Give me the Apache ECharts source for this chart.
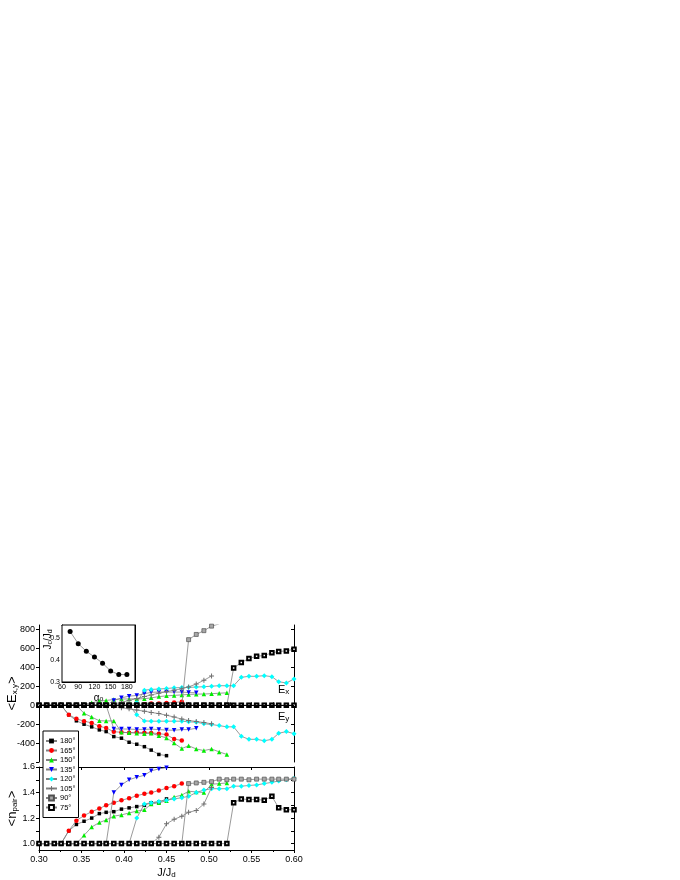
<!DOCTYPE html>
<html>
<head>
<meta charset="utf-8">
<script src="https://cdn.jsdelivr.net/npm/echarts@6/dist/echarts.min.js"></script>
<style>
html,body{margin:0;padding:0;background:#fff}
#chart{width:680px;height:880px}
</style>
</head>
<body>
<div id="chart"></div>
<script>
// J/Jd grid (shared by all curves)
var J = [0.300,0.309,0.318,0.326,0.335,0.344,0.353,0.362,0.371,0.379,0.388,0.397,0.406,0.415,0.424,0.432,0.441,0.450,
         0.459,0.468,0.476,0.485,0.494,0.503,0.512,0.521,0.529,0.538,0.547,0.556,0.565,0.574,0.582,0.591,0.600];

// <E_x> (upper branch), <E_y> (lower branch), <n_pair>, one set per angle
var ex180 = [0,0,0,0,0,0,0,0,0,0,0,0,0,0,0,0,0,0];
var ey180 = [0,0,0,0,-100,-164,-200,-228,-260,-278,-331,-348,-391,-412,-438,-474,-520,-533];
var n180  = [1,1,1,1,1.10,1.15,1.175,1.20,1.235,1.245,1.25,1.27,1.28,1.29,1.30,1.32,1.325,1.35];

var ex165 = [0,0,0,0,0,0,0,0,0,0,0,0,0,8,12,18,20,25,30,38];
var ey165 = [0,0,0,0,-100,-143,-168,-186,-221,-240,-280,-285,-290,-285,-290,-292,-300,-310,-357,-372];
var n165  = [1,1,1,1,1.10,1.18,1.22,1.25,1.275,1.30,1.32,1.34,1.355,1.375,1.39,1.40,1.415,1.435,1.45,1.47];

var ex150 = [0,0,0,0,0,0,12,26,43,52,61,66,68,68,70,79,92,100,105,110,115,118,120,123,128,132];
var ey150 = [0,0,0,0,0,0,-85,-124,-164,-165,-165,-285,-290,-295,-300,-295,-321,-345,-400,-458,-428,-462,-479,-462,-493,-520];
var n150  = [1,1,1,1,1,1,1.065,1.13,1.165,1.185,1.215,1.225,1.24,1.255,1.265,1.31,1.32,1.335,1.365,1.38,1.41,1.405,1.40,1.465,1.47,1.475];

var ex135 = [0,0,0,0,0,0,0,0,0,0,51,79,97,104,122,138,140,140,140,140,135,133];
var ey135 = [0,0,0,0,0,0,0,0,0,0,-250,-250,-252,-255,-255,-252,-257,-262,-264,-257,-257,-243];
var n135  = [1,1,1,1,1,1,1,1,1,1,1.40,1.46,1.50,1.52,1.535,1.57,1.585,1.595];

var ex120 = [0,0,0,0,0,0,0,0,0,0,0,0,0,30,160,168,172,178,185,188,190,193,197,202,208,207,207,296,307,307,314,303,250,236,279];
var ey120 = [0,0,0,0,0,0,0,0,0,0,0,0,0,-100,-165,-168,-168,-168,-168,-168,-175,-178,-195,-203,-215,-228,-228,-328,-360,-360,-375,-360,-296,-278,-300];
var n120  = [1,1,1,1,1,1,1,1,1,1,1,1,1,1.20,1.31,1.32,1.33,1.34,1.35,1.36,1.37,1.40,1.42,1.43,1.43,1.43,1.45,1.45,1.455,1.46,1.47,1.48,1.49,1.50,1.51];

var ex105 = [0,0,0,0,0,0,0,0,0,0,14,32,52,72,92,110,128,145,160,175,195,225,265,310];
var ey105 = [0,0,0,0,0,0,0,0,0,0,-12,-25,-37,-50,-62,-75,-88,-105,-124,-146,-160,-171,-182,-196];
var n105  = [1,1,1,1,1,1,1,1,1,1,1,1,1,1,1,1,1.05,1.155,1.19,1.215,1.245,1.26,1.31,1.44];

var ex90 = [0,0,0,0,0,0,0,0,0,0,0,0,0,0,0,0,0,0,0,0,695,750,790,838,862];
var ey90 = [0,0,0,0,0,0,0,0,0,0,0,0,0,0,0,0,0,0,0,0,0,0,0,0,0,0,0,0,0,0,0,0,0,0,0];
var n90  = [1,1,1,1,1,1,1,1,1,1,1,1,1,1,1,1,1,1,1,1,1.47,1.475,1.48,1.485,1.505,1.50,1.505,1.505,1.50,1.505,1.505,1.505,1.505,1.505,1.505];

var ex75 = [0,0,0,0,0,0,0,0,0,0,0,0,0,0,0,0,0,0,0,0,0,0,0,0,0,0,395,453,495,518,528,555,570,576,594];
var ey75 = [0,0,0,0,0,0,0,0,0,0,0,0,0,0,0,0,0,0,0,0,0,0,0,0,0,0,0,0,0,0,0,0,0,0,0];
var n75  = [1,1,1,1,1,1,1,1,1,1,1,1,1,1,1,1,1,1,1,1,1,1,1,1,1,1,1.32,1.35,1.345,1.345,1.34,1.37,1.28,1.265,1.265];

// inset: Jc/Jd vs alpha
var alpha = [75,90,105,120,135,150,165,180];
var jc    = [0.530,0.475,0.440,0.414,0.386,0.350,0.334,0.334];

var names = ['180°','165°','150°','135°','120°','105°','90°','75°'];
var curves = [
    [ex180,ey180,n180],[ex165,ey165,n165],[ex150,ey150,n150],[ex135,ey135,n135],
    [ex120,ey120,n120],[ex105,ey105,n105],[ex90,ey90,n90],[ex75,ey75,n75]
];
var looks = [
    {symbol:'rect', size:3.5, color:'#000000'},
    {symbol:'circle', size:4.5, color:'#ff0000'},
    {symbol:'triangle', size:4.5, color:'#00ee00'},
    {symbol:'triangle', size:4.5, color:'#0000ff', rotate:180},
    {symbol:'diamond', size:5, color:'#00ffff'},
    {symbol:'path://M4,0H6V4H10V6H6V10H4V6H0V4H4Z', size:5, color:'#707070'},
    {symbol:'rect', size:4, color:'#a8a8a8', border:'#505050', bw:0.7},
    {symbol:'emptyRect', size:3.5, color:'#000000', bw:1}
];

function pairs(vals){
    var out = [];
    for (var i = 0; i < vals.length; i++) out.push([J[i], vals[i]]);
    return out;
}

var series = [];
for (var i = 0; i < names.length; i++) {
    var lk = looks[i];
    for (var p = 0; p < 3; p++) {
        series.push({
            name: names[i], type: 'line',
            xAxisIndex: p < 2 ? 0 : 2, yAxisIndex: p < 2 ? 0 : 2,
            data: pairs(curves[i][p]),
            symbol: lk.symbol, symbolSize: lk.size, symbolRotate: lk.rotate || 0,
            showSymbol: true, clip: true,
            itemStyle: {color: lk.color, borderColor: lk.border || lk.color, borderWidth: lk.bw || 0},
            lineStyle: {color: '#808080', width: 0.8},
            animation: false, z: 2 + i * 0.1
        });
    }
}
// zero line of the energy panel
series[0].markLine = {
    silent: true, symbol: 'none', label: {show: false}, animation: false,
    lineStyle: {color: '#000', width: 1.2, type: 'solid'},
    data: [{yAxis: 0}]
};
series.push({
    name: 'inset', type: 'line', xAxisIndex: 4, yAxisIndex: 4,
    data: alpha.map(function (a, k) { return [a, jc[k]]; }),
    symbol: 'circle', symbolSize: 5,
    itemStyle: {color: '#000'}, lineStyle: {color: '#808080', width: 0.8},
    animation: false, z: 5
});

var font = 'Arial, "Liberation Sans", sans-serif';
var lbl = {color: '#000', fontFamily: font, fontSize: 9};
var blackLine = {show: true, lineStyle: {color: '#000', width: 1}};
var subRich = {sub: {fontSize: 8, fontFamily: font, verticalAlign: 'bottom', padding: [5, 0, 0, 0]}};

var chart = echarts.init(document.getElementById('chart'));
chart.setOption({
    backgroundColor: '#fff',
    animation: false,
    grid: [
        {left: 39, top: 625, width: 255, height: 137},
        {left: 39, top: 767, width: 255, height: 85},
        {left: 62, top: 625, width: 73, height: 57, show: true, backgroundColor: '#fff', borderColor: '#000', borderWidth: 1, z: 3}
    ],
    xAxis: [
        {gridIndex: 0, type: 'value', min: 0.3, max: 0.6, interval: 0.05, axisLine: blackLine,
         axisTick: {inside: true, length: 3, lineStyle: {color: '#000'}},
         minorTick: {show: true, splitNumber: 2, length: 3, lineStyle: {color: '#000'}},
         axisLabel: {show: false}, splitLine: {show: false}},
        {gridIndex: 0, type: 'value', position: 'top', min: 0.3, max: 0.6, interval: 0.05, axisLine: blackLine,
         axisTick: {show: false}, axisLabel: {show: false}, splitLine: {show: false}},
        {gridIndex: 1, type: 'value', min: 0.3, max: 0.6, interval: 0.05, axisLine: blackLine,
         axisTick: {length: 3, lineStyle: {color: '#000'}},
         minorTick: {show: true, splitNumber: 2, length: 2, lineStyle: {color: '#000'}},
         axisLabel: Object.assign({margin: 5, formatter: function (v) { return v.toFixed(2); }}, lbl),
         splitLine: {show: false},
         name: 'J/J{sub|d}', nameLocation: 'middle', nameGap: 16, nameMoveOverlap: false,
         nameTextStyle: {color: '#000', fontFamily: font, fontSize: 11, rich: subRich}},
        {gridIndex: 1, type: 'value', position: 'top', min: 0.3, max: 0.6, interval: 0.05, axisLine: blackLine,
         axisTick: {inside: true, length: 3, lineStyle: {color: '#000'}}, axisLabel: {show: false}, splitLine: {show: false}},
        {gridIndex: 2, type: 'value', min: 60, max: 195, interval: 15, axisLine: blackLine,
         axisTick: {inside: true, length: 2, lineStyle: {color: '#000'}},
         axisLabel: {color: '#000', fontFamily: font, fontSize: 7, margin: 2,
             formatter: function (v) { return (v % 30 === 0 && v <= 180) ? String(v) : ''; }},
         splitLine: {show: true, lineStyle: {color: '#c8c8c8', width: 0.6}},
         name: 'α{s|o}', nameLocation: 'middle', nameGap: 11,
         nameTextStyle: {color: '#000', fontFamily: font, fontSize: 10, rich: {s: {fontSize: 7, fontFamily: font, verticalAlign: 'bottom'}}}},
        {gridIndex: 2, type: 'value', position: 'top', min: 60, max: 195, axisLine: blackLine,
         axisTick: {show: false}, axisLabel: {show: false}, splitLine: {show: false}}
    ],
    yAxis: [
        {gridIndex: 0, type: 'value', min: -600, max: 850, interval: 200, axisLine: blackLine,
         axisTick: {length: 3, lineStyle: {color: '#000'}, customValues: [-600,-400,-200,0,200,400,600,800]},
         axisLabel: Object.assign({margin: 4, customValues: [-400,-200,0,200,400,600,800]}, lbl),
         splitLine: {show: false},
         name: '<E{sub|x,y}>', nameLocation: 'middle', nameGap: 20, nameMoveOverlap: false,
         nameTextStyle: {color: '#000', fontFamily: font, fontSize: 13, rich: subRich}},
        {gridIndex: 0, type: 'value', position: 'right', min: -600, max: 850, interval: 200, axisLine: blackLine,
         axisTick: {inside: true, length: 3, lineStyle: {color: '#000'}, customValues: [-400,-200,0,200,400,600,800]},
         axisLabel: {show: false}, splitLine: {show: false}},
        {gridIndex: 1, type: 'value', min: 0.95, max: 1.6, axisLine: blackLine,
         axisTick: {length: 3, lineStyle: {color: '#000'}, customValues: [1.0,1.1,1.2,1.3,1.4,1.5,1.6]},
         axisLabel: Object.assign({margin: 4, customValues: [1.0,1.2,1.4,1.6],
             formatter: function (v) { return v.toFixed(1); }}, lbl),
         splitLine: {show: false},
         name: '<n{sub|pair}>', nameLocation: 'middle', nameGap: 20, nameMoveOverlap: false,
         nameTextStyle: {color: '#000', fontFamily: font, fontSize: 13, rich: subRich}},
        {gridIndex: 1, type: 'value', position: 'right', min: 0.95, max: 1.6, axisLine: blackLine,
         axisTick: {inside: true, length: 3, lineStyle: {color: '#000'}, customValues: [1.0,1.1,1.2,1.3,1.4,1.5]},
         axisLabel: {show: false}, splitLine: {show: false}},
        {gridIndex: 2, type: 'value', min: 0.3, max: 0.56, interval: 0.05, axisLine: blackLine,
         axisTick: {inside: true, length: 2, lineStyle: {color: '#000'}},
         axisLabel: {color: '#000', fontFamily: font, fontSize: 7, margin: 2,
             formatter: function (v) { return Math.abs(v * 10 - Math.round(v * 10)) < 1e-6 ? v.toFixed(1) : ''; }},
         splitLine: {show: true, lineStyle: {color: '#c8c8c8', width: 0.6}},
         name: 'J{sub|c}/J{sub|d}', nameLocation: 'middle', nameGap: 8, nameMoveOverlap: false,
         nameTextStyle: {color: '#000', fontFamily: font, fontSize: 10, padding: [0, 0, 0, 28],
             rich: {sub: {fontSize: 7, fontFamily: font, verticalAlign: 'bottom', padding: [4, 0, 0, 0]}}}},
        {gridIndex: 2, type: 'value', position: 'right', min: 0.3, max: 0.56, axisLine: blackLine,
         axisTick: {show: false}, axisLabel: {show: false}, splitLine: {show: false}}
    ],
    legend: {
        orient: 'vertical', left: 43, top: 731, data: names,
        itemWidth: 11, itemHeight: 6, itemGap: 1.5,
        padding: [6, 3, 6, 2],
        backgroundColor: '#fff', borderColor: '#000', borderWidth: 1, z: 10,
        textStyle: {color: '#000', fontFamily: font, fontSize: 7.5, lineHeight: 8, padding: [0, 0, 0, -2]}
    },
    graphic: [
        {type: 'text', left: 278, top: 684, z: 10,
         style: {text: 'E{sub|x}', fontFamily: font, fontSize: 11, fill: '#000', rich: subRich}},
        {type: 'text', left: 278, top: 711, z: 10,
         style: {text: 'E{sub|y}', fontFamily: font, fontSize: 11, fill: '#000', rich: subRich}}
    ],
    series: series
});
</script>
</body>
</html>
